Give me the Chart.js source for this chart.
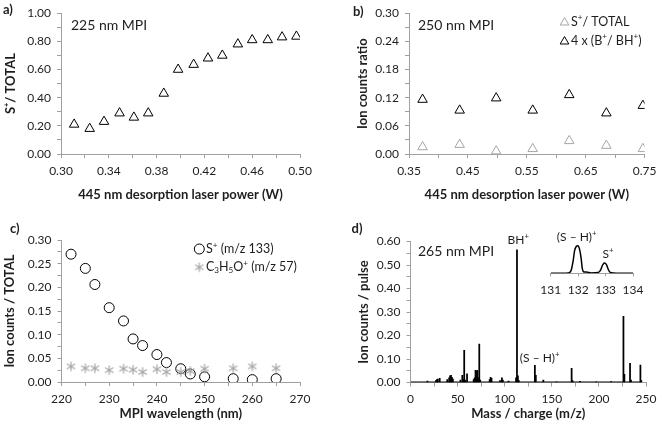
<!DOCTYPE html>
<html>
<head>
<meta charset="utf-8">
<script src="https://cdn.jsdelivr.net/npm/chart.js@4.4.1/dist/chart.umd.min.js"></script>
<style>
  body { margin: 0; background: #fff; }
  #wrap { position: relative; width: 662px; height: 428px; }
  canvas { position: absolute; }
</style>
</head>
<body>
<div id="wrap">
  <canvas id="chartA" width="331" height="214" style="left:0px;top:0px"></canvas>
  <canvas id="chartB" width="331" height="214" style="left:331px;top:0px"></canvas>
  <canvas id="chartC" width="331" height="214" style="left:0px;top:214px"></canvas>
  <canvas id="chartD" width="331" height="214" style="left:331px;top:214px"></canvas>
  <canvas id="inset" width="120" height="72" style="left:530px;top:226px"></canvas>
</div>
<script>
// a) 225 nm MPI
const powerA = [0.311, 0.324, 0.336, 0.349, 0.361, 0.373, 0.386, 0.398, 0.411, 0.423, 0.435, 0.448, 0.460, 0.473, 0.485, 0.497];
const ratioA = [0.21, 0.18, 0.23, 0.29, 0.26, 0.29, 0.43, 0.60, 0.635, 0.68, 0.70, 0.78, 0.81, 0.81, 0.83, 0.835];

// b) 250 nm MPI
const powerB = [0.373, 0.436, 0.498, 0.560, 0.622, 0.685, 0.747];
const sTotalB = [0.015, 0.020, 0.006, 0.011, 0.028, 0.018, 0.011];
const bRatioB = [0.116, 0.093, 0.119, 0.093, 0.126, 0.087, 0.103];

// c) wavelength scan
const wavelengthC = [222, 225, 227, 230, 233, 235, 237, 240, 242, 245, 247, 250, 256, 260, 265];
const sIonC = [0.270, 0.240, 0.206, 0.157, 0.129, 0.091, 0.077, 0.058, 0.041, 0.028, 0.017, 0.011, 0.007, 0.005, 0.007];
const c3h5oC = [0.033, 0.029, 0.029, 0.025, 0.028, 0.026, 0.021, 0.027, 0.021, 0.021, 0.023, 0.028, 0.029, 0.033, 0.029];

// d) 265 nm mass spectrum (stick peaks)
const peakMz = [18, 27, 28, 29, 31, 39, 41, 42, 43, 44, 45, 53, 55, 56, 57, 58, 60, 67, 68, 69, 70, 71, 72, 73, 74,
  84, 85, 86, 95, 97, 98, 104, 112, 113, 114, 115, 132, 133, 141, 155, 171, 172, 180, 197, 213, 226, 227, 233, 234, 244, 245];
const peakCounts = [0.006, 0.008, 0.012, 0.015, 0.018, 0.012, 0.02, 0.028, 0.03, 0.022, 0.015, 0.01, 0.03, 0.012, 0.137, 0.01, 0.037,
  0.012, 0.02, 0.052, 0.05, 0.052, 0.02, 0.163, 0.01, 0.012, 0.022, 0.018, 0.008, 0.02, 0.01, 0.006, 0.02, 0.565, 0.028, 0.008,
  0.073, 0.03, 0.01, 0.003, 0.06, 0.008, 0.005, 0.003, 0.004, 0.282, 0.035, 0.082, 0.01, 0.074, 0.008];
const baselineMz = [0, 245];
const baselineCounts = [0.002, 0.002];

// inset profile around m/z 131-134
const insetMz = [131.0, 131.65, 131.75, 131.82, 131.87, 131.93, 131.99, 132.05, 132.11, 132.15, 132.21, 132.3, 132.47,
  132.73, 132.82, 132.89, 132.96, 133.03, 133.1, 133.17, 133.4, 134.0];
const insetCounts = [0, 0.001, 0.009, 0.034, 0.06, 0.071, 0.073, 0.064, 0.039, 0.013, 0.0035, 0.0035, 0.001,
  0.002, 0.009, 0.022, 0.0275, 0.023, 0.01, 0.002, 0, 0];

const FONT = "Lato, 'DejaVu Sans', sans-serif";
const INK = '#1e1e1e';
const AXIS = '#a0a0a0';
const GREY = '#a6a6a6';

const xy = (xs, ys) => xs.map((x, i) => ({ x: x, y: ys[i] }));

// gray asterisk marker (X with a vertical bar)
const star = document.createElement('canvas');
star.width = 12; star.height = 12;
(function () {
  const c = star.getContext('2d');
  c.strokeStyle = GREY; c.lineWidth = 1.2;
  c.beginPath();
  c.moveTo(6, 1.2); c.lineTo(6, 10.8);
  c.moveTo(1.8, 3.6); c.lineTo(10.2, 8.4);
  c.moveTo(1.8, 8.4); c.lineTo(10.2, 3.6);
  c.stroke();
})();

// text with superscripts / subscripts: parts = [[text, ''|'^'|'_'], ...]
function rich(ctx, x, y, parts, size, bold, align) {
  const w = bold ? 'bold ' : '';
  let total = 0;
  parts.forEach(p => {
    const s = p[1] ? size * 0.65 : size;
    ctx.font = w + s + 'px ' + FONT;
    total += ctx.measureText(p[0]).width;
  });
  let cx = align === 'center' ? x - total / 2 : x;
  ctx.fillStyle = INK;
  ctx.textAlign = 'left';
  ctx.textBaseline = 'middle';
  parts.forEach(p => {
    const s = p[1] ? size * 0.65 : size;
    ctx.font = w + s + 'px ' + FONT;
    let dy = 0;
    if (p[1] === '^') dy = -size * 0.32;
    if (p[1] === '_') dy = size * 0.28;
    ctx.fillText(p[0], cx, y + dy);
    cx += ctx.measureText(p[0]).width;
  });
}

function triangle(ctx, x, y, r, color) {
  ctx.save();
  ctx.strokeStyle = color; ctx.lineWidth = 1;
  ctx.beginPath();
  ctx.moveTo(x, y - r);
  ctx.lineTo(x + r * 0.866, y + r / 2);
  ctx.lineTo(x - r * 0.866, y + r / 2);
  ctx.closePath();
  ctx.stroke();
  ctx.restore();
}

function notes(fn) {
  return { id: 'notes', afterDraw(chart) { chart.ctx.save(); fn(chart.ctx); chart.ctx.restore(); } };
}

function axis(opt) {
  const horiz = opt.pos === 'x';
  return {
    type: 'linear', min: opt.min, max: opt.max, offset: false,
    ticks: {
      stepSize: opt.step, autoSkip: false, maxRotation: 0, color: INK,
      font: { family: FONT, size: 12 },
      padding: horiz ? 5.5 : 6,
      callback: (v, i) => (i % 2 === 0 ? Number(v).toFixed(opt.digits) : '')
    },
    grid: { drawOnChartArea: false, drawTicks: true, tickLength: 4, color: AXIS, offset: false },
    border: { color: AXIS },
    title: {
      display: true, text: opt.title, color: INK,
      font: { family: FONT, size: 13, weight: 'bold' },
      padding: horiz ? { top: 0, bottom: opt.tpad } : { top: opt.tpad, bottom: 0 }
    },
    afterFit: s => { if (horiz) s.height = opt.size; else s.width = opt.size; }
  };
}

const base = {
  responsive: false, animation: false,
  plugins: { legend: { display: false }, tooltip: { enabled: false } }
};

// ---- a)
new Chart(document.getElementById('chartA'), {
  type: 'scatter',
  data: { datasets: [{
    data: xy(powerA, ratioA), pointStyle: 'triangle', pointRadius: 5.5,
    borderColor: '#000', borderWidth: 1, backgroundColor: 'rgba(255,255,255,0)'
  }] },
  options: Object.assign({}, base, {
    layout: { padding: { top: 13, right: 31, left: 0, bottom: 0 } },
    scales: {
      x: axis({ pos: 'x', min: 0.30, max: 0.50, step: 0.02, digits: 2, size: 60, tpad: 11, title: '445 nm desorption laser power (W)' }),
      y: axis({ pos: 'y', min: 0, max: 1, step: 0.1, digits: 2, size: 61, tpad: 3, title: 'S\u207A/ TOTAL' })
    }
  }),
  plugins: [notes(ctx => {
    rich(ctx, 3, 10, [['a)', '']], 13, true);
    rich(ctx, 71, 25, [['225 nm MPI', '']], 14, false);
  })]
});

// ---- b)
new Chart(document.getElementById('chartB'), {
  type: 'scatter',
  data: { datasets: [
    { data: xy(powerB, sTotalB), pointStyle: 'triangle', pointRadius: 5.5, borderColor: GREY, borderWidth: 1, backgroundColor: 'rgba(255,255,255,0)' },
    { data: xy(powerB, bRatioB), pointStyle: 'triangle', pointRadius: 5.5, borderColor: '#000', borderWidth: 1, backgroundColor: 'rgba(255,255,255,0)' }
  ] },
  options: Object.assign({}, base, {
    layout: { padding: { top: 13, right: 14, left: 0, bottom: 0 } },
    scales: {
      x: axis({ pos: 'x', min: 0.35, max: 0.75, step: 0.05, digits: 2, size: 60, tpad: 11, title: '445 nm desorption laser power (W)' }),
      y: axis({ pos: 'y', min: 0, max: 0.30, step: 0.03, digits: 2, size: 78, tpad: 24, title: 'Ion counts ratio' })
    }
  }),
  plugins: [notes(ctx => {
    rich(ctx, 22, 12, [['b)', '']], 13, true);
    rich(ctx, 87, 25, [['250 nm MPI', '']], 14, false);
    triangle(ctx, 233.5, 22.5, 5, GREY);
    rich(ctx, 240, 21.7, [['S', ''], ['+', '^'], ['/ TOTAL', '']], 12.5, false);
    triangle(ctx, 233.5, 41.5, 5, '#000');
    rich(ctx, 240, 40.7, [['4 x (B', ''], ['+', '^'], ['/ BH', ''], ['+', '^'], [')', '']], 12.5, false);
  })]
});

// ---- c)
new Chart(document.getElementById('chartC'), {
  type: 'scatter',
  data: { datasets: [
    { data: xy(wavelengthC, c3h5oC), pointStyle: star, pointRadius: 6 },
    { data: xy(wavelengthC, sIonC), pointStyle: 'circle', pointRadius: 5, borderColor: '#000', borderWidth: 1, backgroundColor: 'rgba(255,255,255,0)' }
  ] },
  options: Object.assign({}, base, {
    layout: { padding: { top: 26, right: 31, left: 0, bottom: 0 } },
    scales: {
      x: axis({ pos: 'x', min: 220, max: 270, step: 5, digits: 0, size: 46, tpad: 6, title: 'MPI wavelength (nm)' }),
      y: axis({ pos: 'y', min: 0, max: 0.30, step: 0.025, digits: 2, size: 61.5, tpad: 2.5, title: 'Ion counts / TOTAL' })
    }
  }),
  plugins: [notes(ctx => {
    rich(ctx, 10, 15, [['c)', '']], 13, true);
    ctx.strokeStyle = '#000'; ctx.lineWidth = 1;
    ctx.beginPath(); ctx.arc(199.3, 35, 5, 0, Math.PI * 2); ctx.stroke();
    rich(ctx, 206, 35, [['S', ''], ['+', '^'], [' (m/z 133)', '']], 12.5, false);
    ctx.drawImage(star, 193.3, 47.3);
    rich(ctx, 206, 53.3, [['C', ''], ['3', '_'], ['H', ''], ['5', '_'], ['O', ''], ['+', '^'], [' (m/z 57)', '']], 12.5, false);
  })]
});

// ---- d)
new Chart(document.getElementById('chartD'), {
  type: 'bar',
  data: { datasets: [
    { type: 'bar', data: xy(peakMz, peakCounts), backgroundColor: '#000', barThickness: 1.1 },
    { type: 'line', data: xy(baselineMz, baselineCounts), borderColor: '#000', borderWidth: 1.2, pointRadius: 0 }
  ] },
  options: Object.assign({}, base, {
    layout: { padding: { top: 27.5, right: 11.7, left: 0, bottom: 0 } },
    scales: {
      x: axis({ pos: 'x', min: 0, max: 250, step: 25, digits: 0, size: 45.5, tpad: 6, title: 'Mass / charge (m/z)' }),
      y: axis({ pos: 'y', min: 0, max: 0.60, step: 0.05, digits: 2, size: 79.5, tpad: 25, title: 'Ion counts / pulse' })
    }
  }),
  plugins: [notes(ctx => {
    rich(ctx, 20.5, 15, [['d)', '']], 13, true);
    rich(ctx, 87, 37.3, [['265 nm MPI', '']], 14, false);
    rich(ctx, 187.3, 26, [['BH', ''], ['+', '^']], 12, false, 'center');
    rich(ctx, 208.7, 144.3, [['(S \u2013 H)', ''], ['+', '^']], 12, false, 'center');
  })]
});

// ---- inset
new Chart(document.getElementById('inset'), {
  type: 'scatter',
  data: { datasets: [{
    data: xy(insetMz, insetCounts), showLine: true, borderColor: '#000', borderWidth: 1.5,
    pointRadius: 0, cubicInterpolationMode: 'monotone'
  }] },
  options: Object.assign({}, base, {
    layout: { padding: { top: 17.1, right: 12.7, left: 20.7, bottom: 0 } },
    scales: {
      x: {
        type: 'linear', min: 131, max: 134, offset: false,
        ticks: { stepSize: 1, color: INK, font: { family: FONT, size: 12 }, padding: 6.5, maxRotation: 0 },
        grid: { drawOnChartArea: false, tickLength: 3, color: AXIS },
        border: { color: AXIS },
        afterFit: s => { s.height = 24.7; }
      },
      y: { display: false, min: 0, max: 0.08 }
    }
  }),
  plugins: [notes(ctx => {
    rich(ctx, 46.7, 11.3, [['(S \u2013 H)', ''], ['+', '^']], 12, false, 'center');
    rich(ctx, 78, 28, [['S', ''], ['+', '^']], 12, false, 'center');
  })]
});
</script>
</body>
</html>
